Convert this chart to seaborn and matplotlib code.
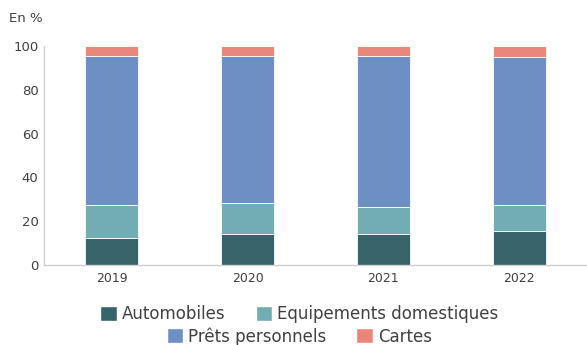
import numpy as np
import matplotlib
matplotlib.use("Agg")
import matplotlib.pyplot as plt
import seaborn as sns
from matplotlib.patches import Patch

# --- données (en %) ---
annees = ["2019", "2020", "2021", "2022"]
automobiles = [12.5, 14.3, 14.3, 15.5]
equipements = [14.7, 14.0, 12.0, 11.7]
prets_perso = [68.4, 67.3, 69.3, 67.5]
cartes = [4.4, 4.4, 4.4, 5.3]

series = ["Automobiles", "Equipements domestiques", "Prêts personnels", "Cartes"]
couleurs = ["#37636a", "#72adb3", "#6e8fc4", "#e9877b"]
gris = "#404040"

sns.set_theme(style="white")
plt.rcParams['font.family'] = 'DejaVu Sans'

fig = plt.figure(figsize=(5.87, 3.45), dpi=100)
ax = fig.add_axes([0.075, 0.232, 0.925, 0.635])

bas = np.zeros(len(annees))
for nom, vals, c in zip(series, [automobiles, equipements, prets_perso, cartes], couleurs):
    sns.barplot(x=annees, y=vals, bottom=bas, color=c, width=0.39, saturation=1,
                edgecolor="white", linewidth=0.6, ax=ax)
    bas = bas + np.array(vals)

ax.set_xlim(-0.5, 3.5)
ax.set_ylim(0, 100)
ax.set_yticks([0, 20, 40, 60, 80, 100])
ax.set_xlabel("")
ax.set_ylabel("")
for s in ["top", "right"]:
    ax.spines[s].set_visible(False)
for s in ["left", "bottom"]:
    ax.spines[s].set_color("#d0d0d0")
    ax.spines[s].set_linewidth(1)
ax.tick_params(axis="y", labelsize=9.5, labelcolor=gris, length=0, pad=4)
ax.tick_params(axis="x", labelsize=9, labelcolor=gris, length=0, pad=5)
# petits traits entre les catégories
ax.set_xticks([0.5, 1.5, 2.5], minor=True)
ax.tick_params(axis="x", which="minor", length=3, color="#d0d0d0", direction="out")

fig.text(0.015, 0.945, "En %", fontsize=9.5, color=gris, ha="left", va="center")

poignees = [Patch(facecolor=c) for c in couleurs]
leg1 = fig.legend(poignees[:2], series[:2], loc="center", bbox_to_anchor=(0.51, 0.09),
                  ncol=2, frameon=False, fontsize=12, handlelength=1.0, handleheight=1.0,
                  handletextpad=0.3, columnspacing=1.8, labelcolor=gris)
leg2 = fig.legend(poignees[2:], series[2:], loc="center", bbox_to_anchor=(0.51, 0.025),
                  ncol=2, frameon=False, fontsize=12, handlelength=1.0, handleheight=1.0,
                  handletextpad=0.3, columnspacing=1.8, labelcolor=gris)

fig.savefig("out.png", dpi=100)
